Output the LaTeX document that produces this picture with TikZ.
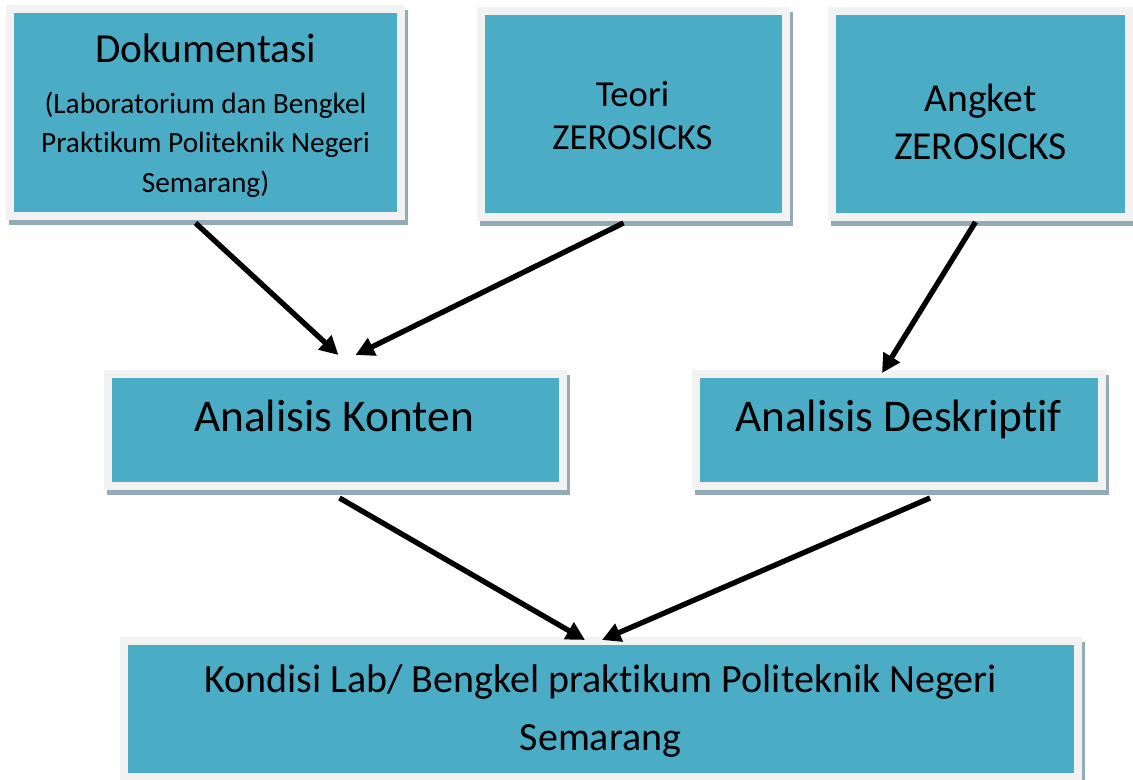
\documentclass[tikz,border=0pt]{standalone}
\usepackage{fontspec}
\setmainfont[RawFeature={-liga}]{Carlito}
\usetikzlibrary{calc,arrows.meta,backgrounds}
\definecolor{tealc}{HTML}{4BACC6}
\definecolor{framec}{HTML}{F2F2F2}
\definecolor{shadowc}{HTML}{93ABB5}
\tikzset{
  box/.style={fill=tealc, inner sep=0pt, outer sep=0pt},
  lbl/.style={anchor=base, inner sep=0pt, text=black},
  arr/.style={line width=4pt, -{Triangle[length=14pt,width=14pt]}},
}
\begin{document}
\begin{tikzpicture}[x=0.75pt,y=-0.75pt]
\useasboundingbox (0,0) rectangle (1133,780);
% boxes (teal cores)
\node[box, minimum width=383*0.75pt, minimum height=199*0.75pt] (dok) at (205.5,112.5) {};
\node[box, minimum width=297*0.75pt, minimum height=198*0.75pt] (teo) at (633.5,114) {};
\node[box, minimum width=289*0.75pt, minimum height=198*0.75pt] (ang) at (980.5,114) {};
\node[box, minimum width=447*0.75pt, minimum height=104*0.75pt] (ak) at (335.5,430) {};
\node[box, minimum width=398*0.75pt, minimum height=104*0.75pt] (ad) at (899,430) {};
\node[box, minimum width=946*0.75pt, minimum height=128*0.75pt] (kon) at (601,709) {};
\begin{scope}[on background layer]
\foreach \n in {dok,teo,ang,ak,ad,kon}{
  \fill[shadowc] ($(\n.north west)+(-5,-3)$) rectangle ($(\n.south east)+(11,13)$);
  \fill[framec] ($(\n.north west)+(-8,-8)$) rectangle ($(\n.south east)+(8,8)$);
}
\end{scope}
% labels
\node[lbl, font=\fontsize{31pt}{36pt}\selectfont] (t1) at (205.5,63) {Dokumentasi};
\node[lbl, font=\fontsize{22pt}{26pt}\selectfont] (t1a) at (205.5,114) {(Laboratorium dan Bengkel};
\node[lbl, font=\fontsize{22pt}{26pt}\selectfont] (t1b) at (205.5,153) {Praktikum Politeknik Negeri};
\node[lbl, font=\fontsize{22pt}{26pt}\selectfont] (t1c) at (205.5,193) {Semarang)};
\node[lbl, font=\fontsize{27.5pt}{32pt}\selectfont] (t2a) at (632.5,107) {Teori};
\node[lbl, font=\fontsize{27.5pt}{32pt}\selectfont] (t2b) at (632.5,150) {ZEROSICKS};
\node[lbl, font=\fontsize{29.7pt}{34pt}\selectfont] (t3a) at (980.5,112) {Angket};
\node[lbl, font=\fontsize{29.7pt}{34pt}\selectfont] (t3b) at (980.5,160) {ZEROSICKS};
\node[lbl, font=\fontsize{34pt}{40pt}\selectfont] (t4) at (334,432) {Analisis Konten};
\node[lbl, font=\fontsize{34pt}{40pt}\selectfont] (t5) at (898.5,432) {Analisis Deskriptif};
\node[lbl, font=\fontsize{30pt}{36pt}\selectfont] (t6a) at (600.5,693) {Kondisi Lab/ Bengkel praktikum Politeknik Negeri};
\node[lbl, font=\fontsize{30pt}{36pt}\selectfont] (t6b) at (600.5,750) {Semarang};
% arrows
\draw[arr] ($(dok.south)+(-10,11)$) -- ($(ak.north)+(3,-23)$);
\draw[arr] ($(teo.south)+(-10,10)$) -- ($(ak.north)+(20,-23)$);
\draw[arr] ($(ang.south)+(-5,9)$) -- ($(ad.north)+(-17,-5)$);
\draw[arr] ($(ak.south)+(4,16)$) -- ($(kon.north)+(-16,-5)$);
\draw[arr] ($(ad.south)+(31,16)$) -- ($(kon.north)+(1,-5)$);
\end{tikzpicture}
\end{document}
